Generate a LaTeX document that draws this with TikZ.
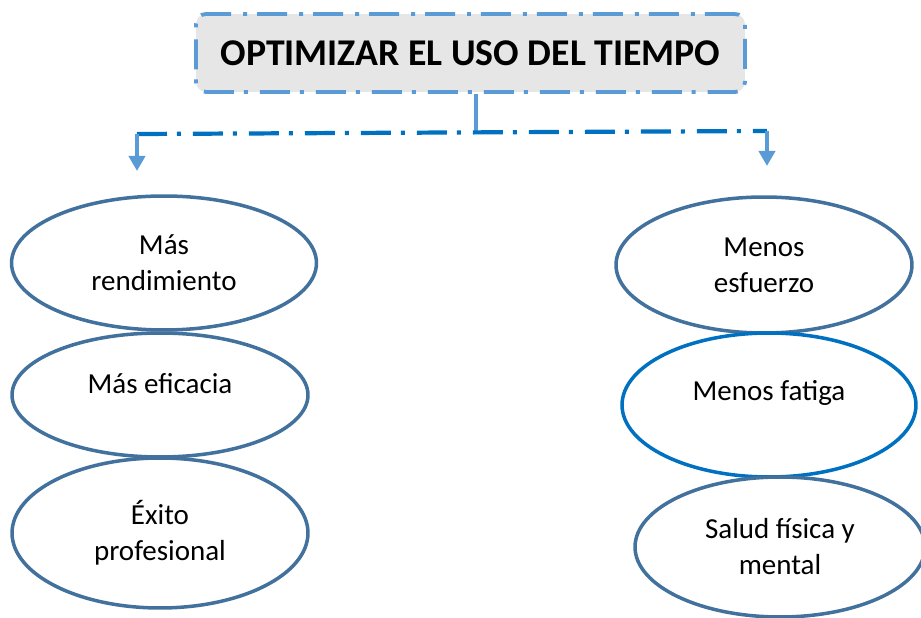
\documentclass[tikz,border=0pt]{standalone}
\usepackage{fontspec}
\setmainfont{Carlito}
\usetikzlibrary{shapes.geometric,arrows.meta}
\definecolor{ovalblue}{HTML}{41719C}
\definecolor{brightblue}{HTML}{0070C0}
\definecolor{lightblue}{HTML}{5B9BD5}
\definecolor{boxgray}{HTML}{E6E6E6}
\tikzset{
  oval/.style={ellipse, draw=ovalblue, line width=2pt, inner sep=0pt,
    align=center, font=\fontsize{16.5}{20.5}\selectfont},
  dashdot/.style={dash pattern=on 0.6cm off 0.2cm on 0.08cm off 0.24cm},
  downarrow/.style={draw=lightblue, line width=2.3pt,
    -{Triangle[width=0.32cm,length=0.3cm,fill=lightblue]}}
}
\begin{document}
\begin{tikzpicture}[x=0.02cm,y=-0.02cm]
\useasboundingbox (0,0) rectangle (921,618);

% title
\node[draw=lightblue, fill=boxgray, line width=2.2pt, dashdot, rounded corners=0.2cm,
  minimum width=10.98cm, minimum height=1.56cm, font=\fontsize{21.5}{25}\selectfont\bfseries]
  (title) at (470.5,53) {OPTIMIZAR EL USO DEL TIEMPO};

% branches
\coordinate (j) at (476,133);
\coordinate (cl) at (137,134);
\coordinate (cr) at (767,131);
\coordinate (al) at (137,171);
\coordinate (ar) at (767,166);
\draw[lightblue, line width=2pt] (j |- title.south) -- (j);
\draw[brightblue, line width=2.4pt, dashdot] (cl) -- (cr);
\draw[downarrow] (cl) -- (al);
\draw[downarrow] (cr) -- (ar);

% left column
\node[oval, minimum width=6.1cm, minimum height=2.68cm] (mas1) at (164,263) {Más\\rendimiento};
\node[oval, minimum width=5.92cm, minimum height=2.48cm] (mas2) at (160,395)
  {\raisebox{0.22cm}[\height][\depth]{Más eficacia}};
\node[oval, minimum width=5.92cm, minimum height=3cm] (mas3) at (160,533) {Éxito\\profesional};

% right column
\node[oval, minimum width=5.92cm, minimum height=2.72cm] (men1) at (764,265) {Menos\\esfuerzo};
\node[oval, draw=brightblue, minimum width=5.88cm, minimum height=2.88cm] (men2) at (769,405)
  {\raisebox{0.24cm}[\height][\depth]{Menos fatiga}};
\node[oval, minimum width=5.8cm, minimum height=2.8cm] (men3) at (780,547) {Salud física y\\mental};
\end{tikzpicture}
\end{document}
